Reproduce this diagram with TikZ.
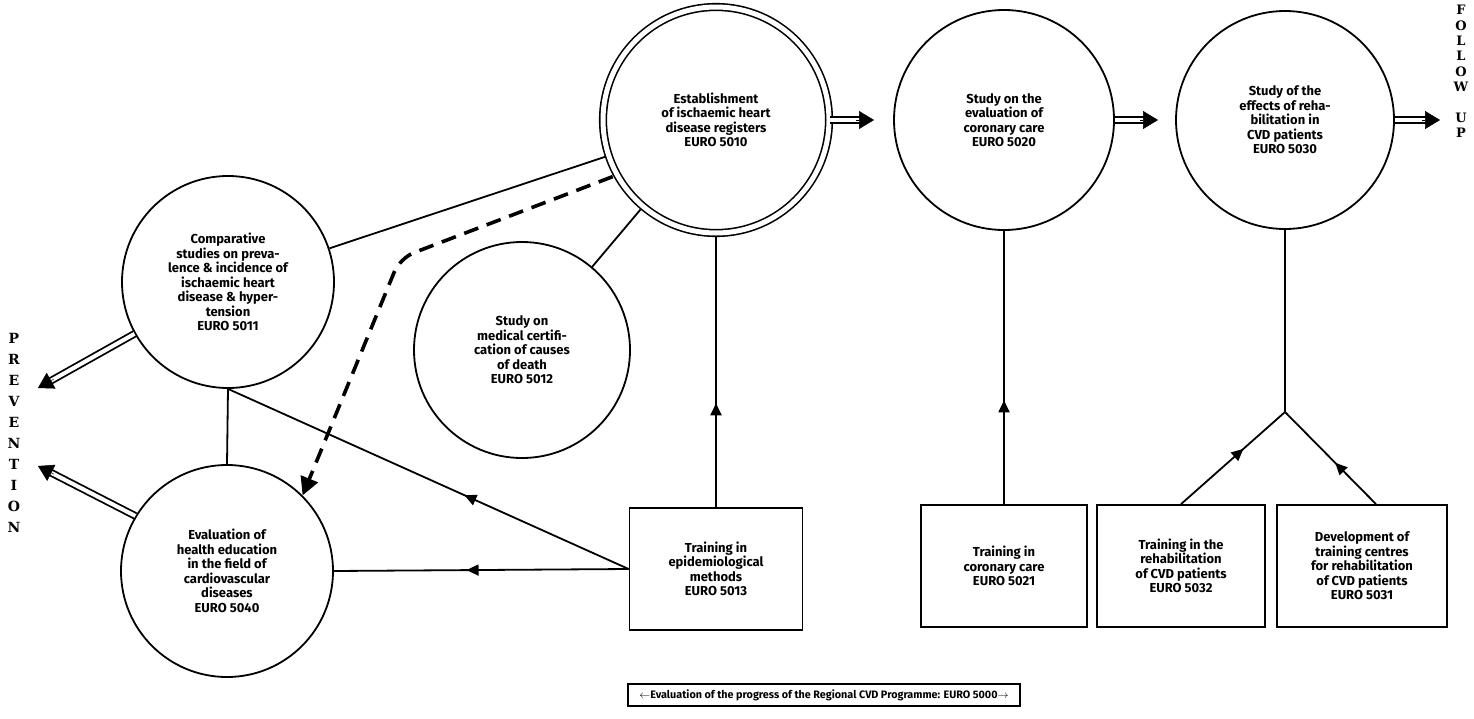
\documentclass[tikz,border=0pt]{standalone}
\usepackage{fontspec}
\setmainfont{Fira Sans}
\newfontfamily\serifb{DejaVu Serif}
\usetikzlibrary{arrows.meta,calc,decorations.markings}
\newcommand\dblarr[2]{%
  \draw[dbl, shorten >=13pt] (#1) -- (#2);
  \draw[-{Triangle[length=15pt,width=18pt]}, line width=0.5pt] ($(#2)!18pt!(#1)$) -- (#2);}
\begin{document}
\begin{tikzpicture}[x=1pt,y=-1pt,
  lab/.style={font=\fontsize{13}{14.5}\selectfont\bfseries, align=center, text=black},
  circ/.style={circle, draw, line width=1.8pt, inner sep=0pt, lab},
  boxn/.style={rectangle, draw, line width=1.8pt, inner sep=0pt, lab},
  conn/.style={line width=1.8pt},
  midarrow/.style={postaction={decorate}, decoration={markings, mark=at position #1 with {\arrow{Triangle[length=12pt,width=11pt]}}}},
  dbl/.style={line width=1.8pt, double=white, double distance=4pt},
  vlab/.style={font=\serifb\bfseries\fontsize{13}{15.4}\selectfont, align=center, inner sep=0pt, anchor=north},
]
\useasboundingbox (0,0) rectangle (1474,718);
\fill[white] (0,0) rectangle (1474,718);

% circles
\node[circ, double, double distance=5pt, line width=1.6pt, minimum size=226] (c5010) at (716,120)
  {Establishment\\of ischaemic heart\\disease registers\\EURO 5010};
\node[circ, minimum size=220] (c5020) at (1004,120)
  {Study on the\\evaluation of\\coronary care\\EURO 5020};
\node[circ, minimum size=218] (c5030) at (1285,120)
  {Study of the\\effects of reha-\\bilitation in\\CVD patients\\EURO 5030};
\node[circ, minimum size=212] (c5011) at (228,282)
  {Comparative\\studies on preva-\\lence \& incidence of\\ischaemic heart\\disease \& hyper-\\tension\\EURO 5011};
\node[circ, minimum size=216] (c5012) at (522,350)
  {Study on\\medical certifi-\\cation of causes\\of death\\EURO 5012};
\node[circ, minimum size=212] (c5040) at (227,571)
  {Evaluation of\\health education\\in the field of\\cardiovascular\\diseases\\EURO 5040};

% boxes
\node[boxn, minimum width=173, minimum height=122] (b5013) at (716,569)
  {Training in\\epidemiological\\methods\\EURO 5013};
\node[boxn, minimum width=166, minimum height=122] (b5021) at (1004,566)
  {Training in\\coronary care\\EURO 5021};
\node[boxn, minimum width=168, minimum height=122] (b5032) at (1181,566)
  {Training in the\\rehabilitation\\of CVD patients\\EURO 5032};
\node[boxn, minimum width=170, minimum height=122] (b5031) at (1362,566)
  {Development of\\training centres\\for rehabilitation\\of CVD patients\\EURO 5031};

% bottom label
\node[draw, line width=1.4pt, minimum width=392, minimum height=22, inner sep=0pt,
  font=\fontsize{10.8}{13}\selectfont\bfseries] (e5000) at (824,695)
  {$\leftarrow$Evaluation of the progress of the Regional CVD Programme: EURO 5000$\rightarrow$};

% side labels
\node[vlab] (fu) at (1461,5) {F\\O\\L\\L\\O\\W\\[15.4pt]U\\P};
\node[vlab, font=\serifb\bfseries\fontsize{14}{21}\selectfont] (prev) at (14,333) {P\\R\\E\\V\\E\\N\\T\\I\\O\\N};

% coordinates
\coordinate (t1) at (874,120);
\coordinate (t2) at (1158,120);
\coordinate (t3) at (1440,120);
\coordinate (tp1) at (38,388);
\coordinate (tp2) at (38,466);
\coordinate (jY) at (1285,412);
\coordinate (dbend) at (400,258);

% double arrows
\dblarr{c5010.east}{t1}
\dblarr{c5020.east}{t2}
\dblarr{c5030.east}{t3}
\dblarr{c5011.209}{tp1}
\dblarr{c5040.149}{tp2}

% plain connectors
\draw[conn, shorten >=3pt] (c5011) -- (c5010);
\draw[conn, shorten >=3pt] (c5012) -- (c5010);
\draw[conn] (c5011.south) -- (c5040.north);
\draw[conn, midarrow=0.41] (b5013.west) -- (c5011.south);
\draw[conn, midarrow=0.55] (b5013.west) -- (c5040.east);
\draw[conn, midarrow=0.38, shorten >=3pt] (b5013.north) -- (c5010.south);
\draw[conn, midarrow=0.38] (b5021.north) -- (c5020.south);
\draw[conn] (c5030.south) -- (jY);
\draw[conn, midarrow=0.6] (b5032.north) -- (jY);
\draw[conn, midarrow=0.45] ($(b5031.north)+(14,0)$) -- (jY);

% dashed arrow
\draw[line width=3.6pt, dash pattern=on 15pt off 9pt, rounded corners=15pt, shorten <=4pt,
  -{Triangle[length=18pt,width=18pt]}] (c5010.209) -- (dbend) -- (c5040.45);
\end{tikzpicture}
\end{document}
